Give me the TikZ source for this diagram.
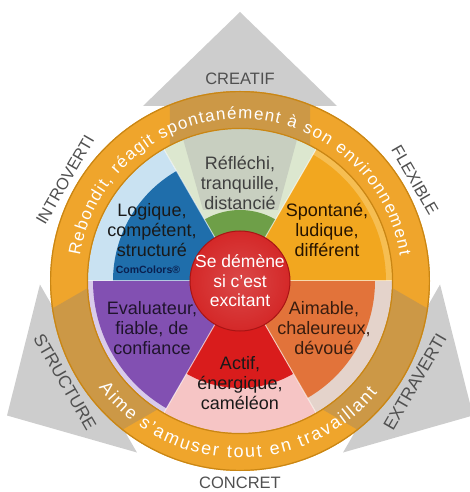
\documentclass[tikz,border=0pt]{standalone}
\usepackage{fontspec}
\setmainfont{Liberation Sans}
\usetikzlibrary{decorations.text}

\definecolor{arrowgrey}{HTML}{CDCDCD}
\definecolor{ringorange}{HTML}{EFA52C}
\definecolor{ringshade}{HTML}{B08E5C}
\definecolor{ringedge}{HTML}{C98614}
\definecolor{labelgrey}{HTML}{505050}
\definecolor{yellowlight}{HTML}{F6BE52}
\definecolor{yellowdark}{HTML}{F2A71F}
\definecolor{greenlight}{HTML}{DCE7CF}
\definecolor{sage}{HTML}{C8CFC0}
\definecolor{greendark}{HTML}{6E9F48}
\definecolor{bluelight}{HTML}{C9E2F2}
\definecolor{bluedark}{HTML}{1F6EAB}
\definecolor{purplelight}{HTML}{D9CBEA}
\definecolor{purpledark}{HTML}{8250B2}
\definecolor{redlight}{HTML}{F6C5C5}
\definecolor{reddark}{HTML}{D91C1C}
\definecolor{orangelight}{HTML}{E4D3CB}
\definecolor{orangedark}{HTML}{E2733A}
\definecolor{centrered}{HTML}{D42828}
\definecolor{centreedge}{HTML}{A81414}
\definecolor{navytext}{HTML}{0A2050}

\newcommand{\colsector}[4]{%
  \fill[#1] (0,0) -- (#2:#4) arc[start angle=#2, end angle=#3, radius=#4] -- cycle;}

\tikzset{
  sectxt/.style={align=center, font=\fontsize{18}{20}\selectfont},
  axislabel/.style={text=labelgrey, font=\fontsize{16.5}{17}\selectfont},
}

\begin{document}
\begin{tikzpicture}[x=1pt,y=1pt]
  \useasboundingbox (-240,-211) rectangle (229,281);

  % grey arrows behind the wheel
  \foreach \a in {90,210,330}
    \fill[arrowgrey, rotate=\a-90] (-70,0) -- (-70,175) -- (-97,175) -- (0,269)
      -- (97,175) -- (70,175) -- (70,0) -- cycle;

  % outer ring, darker where it lies on the arrows
  \fill[ringorange] (0,0) circle[radius=190];
  \begin{scope}
    \clip (0,0) circle[radius=190];
    \foreach \a in {90,210,330}
      \fill[ringshade, opacity=0.55, rotate=\a-90] (-70,0) -- (-70,175) -- (-97,175)
        -- (0,269) -- (97,175) -- (70,175) -- (70,0) -- cycle;
  \end{scope}
  \draw[ringedge, line width=1.2] (0,0) circle[radius=189.4];

  % sectors: light outer part, then dark inner part
  \colsector{yellowlight}{0}{60}{152}
  \colsector{yellowdark}{0}{60}{146}
  \colsector{greenlight}{60}{120}{152}
  \begin{scope}
    \clip (0,0) -- (60:152) arc[start angle=60, end angle=120, radius=152] -- cycle;
    \fill[sage] (-62,160) -- (62,160) -- (38,71) -- (-37,71) -- cycle;
  \end{scope}
  \colsector{greendark}{60}{120}{71}
  \colsector{bluelight}{120}{180}{152}
  \colsector{bluedark}{120}{180}{127}
  \colsector{purplelight}{180}{240}{152}
  \colsector{purpledark}{180}{240}{147}
  \colsector{redlight}{240}{300}{152}
  \colsector{reddark}{240}{300}{107}
  \colsector{orangelight}{300}{360}{152}
  \colsector{orangedark}{300}{360}{135}
  \foreach \a in {0,60,...,300}
    \draw[white, opacity=0.6, line width=1] (0,0) -- (\a:152);
  \draw[ringedge, line width=1.2] (0,0) circle[radius=152.6];

  % centre disc
  \shade[inner color=centrered!85!white, outer color=centrered] (0,0) circle[radius=50];
  \draw[centreedge, line width=1] (0,0) circle[radius=50];

  % texts on the ring
  \path[decorate, decoration={text along path, text align={fit to path}, text color=white,
    text={|\fontsize{17}{17}\selectfont|Rebondit, réagit spontanément à son environnement}}]
    (171:162) arc[start angle=171, end angle=9, radius=162];
  \path[decorate, decoration={text along path, text align={fit to path}, text color=white,
    text={|\fontsize{18}{18}\selectfont|Aime s'amuser tout en travaillant}}]
    (217:177) arc[start angle=217, end angle=321, radius=177];

  % sector texts
  \node[sectxt, text=black!75] (reflechi) at (0,98) {Réfléchi,\\tranquille,\\distancié};
  \node[sectxt, text=black!90] (logique) at (-88,51) {Logique,\\compétent,\\structuré};
  \node[font=\bfseries\fontsize{10.5}{11}\selectfont, text=navytext] (comcolors) at (-92,11) {ComColors®};
  \node[sectxt, text=black!85!orange] (spontane) at (87,51) {Spontané,\\ludique,\\différent};
  \node[sectxt, text=black!75!purpledark] (evaluateur) at (-88,-47) {Evaluateur,\\fiable, de\\confiance};
  \node[sectxt, text=black!75!orangedark] (aimable) at (84,-47) {Aimable,\\chaleureux,\\dévoué};
  \node[sectxt, text=black!90] (actif) at (0,-102) {Actif,\\énergique,\\caméléon};
  \node[sectxt, text=white, font=\fontsize{17.5}{19.5}\selectfont] (excitant) at (0,0) {Se démène\\si c'est\\excitant};

  % axis labels
  \node[axislabel] (creatif) at (90:202) {CREATIF};
  \node[axislabel, rotate=60] (introverti) at (150:202) {INTROVERTI};
  \node[axislabel, rotate=-60] (flexible) at (30:202) {FLEXIBLE};
  \node[axislabel, rotate=-60, font=\fontsize{17.5}{18}\selectfont] (structure) at (210:202) {STRUCTURE};
  \node[axislabel, rotate=60, font=\fontsize{17.5}{18}\selectfont] (extraverti) at (330:202) {EXTRAVERTI};
  \node[axislabel] (concret) at (270:202) {CONCRET};
\end{tikzpicture}
\end{document}
